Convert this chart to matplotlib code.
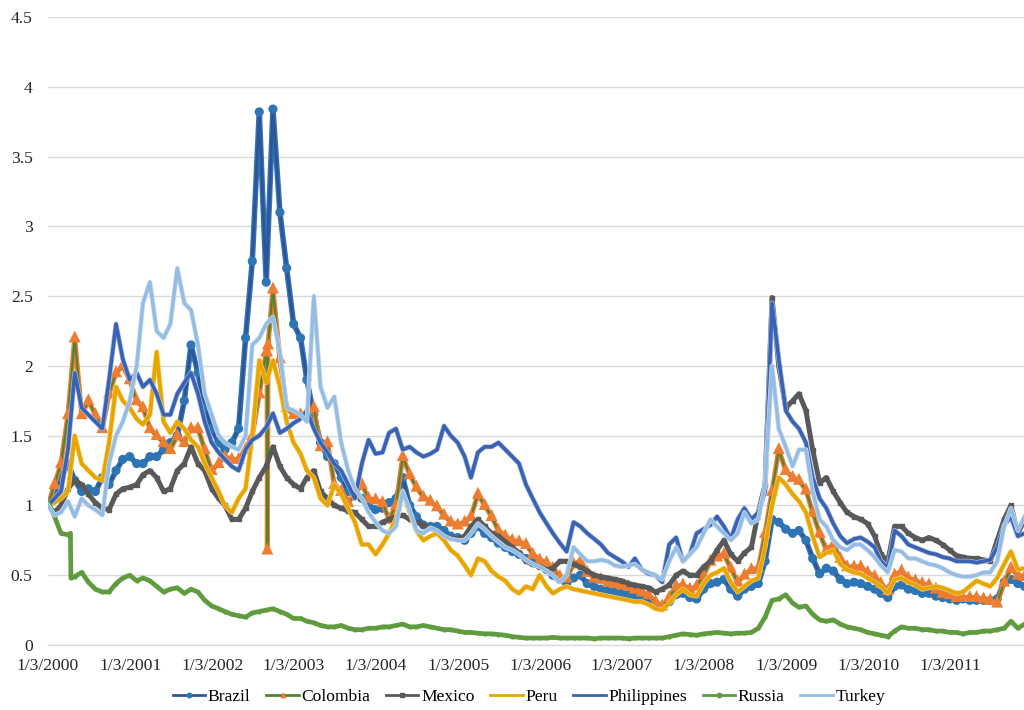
import numpy as np
import pandas as pd
import matplotlib
matplotlib.use("Agg")
import matplotlib.pyplot as plt
import matplotlib.dates as mdates
import matplotlib.patheffects as pe
from matplotlib.lines import Line2D

# Month-start observation dates, Jan 2000 .. Dec 2011
dates = pd.to_datetime(["2000-01-03"] + [d.strftime("%Y-%m-%d") for d in pd.date_range("2000-02-01", "2011-12-01", freq="MS")])

brazil = [
    1.00, 1.10, 1.20, 1.30, 1.18, 1.10, 1.12, 1.10, 1.20, 1.15, 1.25, 1.33,
    1.35, 1.30, 1.30, 1.35, 1.35, 1.40, 1.45, 1.50, 1.75, 2.15, 1.95, 1.70,
    1.55, 1.45, 1.40, 1.45, 1.55, 2.20, 2.75, 3.82, 2.60, 3.84, 3.10, 2.70,
    2.30, 2.20, 1.90, 1.65, 1.45, 1.35, 1.30, 1.20, 1.10, 1.10, 1.05, 1.00,
    0.97, 0.98, 1.02, 1.05, 1.20, 1.00, 0.92, 0.86, 0.85, 0.85, 0.82, 0.78,
    0.77, 0.75, 0.80, 0.85, 0.80, 0.77, 0.73, 0.70, 0.67, 0.65, 0.62, 0.59,
    0.57, 0.54, 0.50, 0.47, 0.44, 0.48, 0.50, 0.44, 0.42, 0.40, 0.39, 0.38,
    0.37, 0.36, 0.35, 0.33, 0.32, 0.29, 0.27, 0.31, 0.36, 0.37, 0.34, 0.33,
    0.40, 0.44, 0.45, 0.47, 0.40, 0.35, 0.40, 0.42, 0.44, 0.60, 0.90, 0.88,
    0.83, 0.80, 0.82, 0.75, 0.62, 0.51, 0.55, 0.53, 0.47, 0.44, 0.45, 0.44,
    0.42, 0.40, 0.37, 0.34, 0.42, 0.43, 0.40, 0.39, 0.37, 0.37, 0.35, 0.34,
    0.33, 0.32, 0.33, 0.32, 0.32, 0.32, 0.32, 0.33, 0.45, 0.47, 0.44, 0.42,
]

colombia = [
    1.00, 1.15, 1.30, 1.65, 2.20, 1.65, 1.75, 1.65, 1.55, 1.80, 1.95, 2.00,
    1.90, 1.75, 1.70, 1.55, 1.50, 1.45, 1.40, 1.50, 1.45, 1.55, 1.55, 1.40,
    1.25, 1.30, 1.35, 1.33, 1.33, 1.40, 1.50, 1.80, 2.10, 2.55, 2.05, 1.70,
    1.65, 1.65, 1.65, 1.70, 1.42, 1.45, 1.15, 1.10, 1.02, 1.08, 1.15, 1.05,
    1.04, 1.02, 0.90, 1.00, 1.35, 1.22, 1.13, 1.06, 1.03, 0.99, 0.93, 0.88,
    0.86, 0.88, 0.92, 1.08, 1.00, 0.92, 0.82, 0.78, 0.75, 0.74, 0.72, 0.65,
    0.61, 0.59, 0.55, 0.49, 0.48, 0.58, 0.60, 0.52, 0.48, 0.47, 0.45, 0.44,
    0.43, 0.42, 0.40, 0.38, 0.36, 0.31, 0.28, 0.34, 0.42, 0.43, 0.40, 0.42,
    0.50, 0.60, 0.63, 0.65, 0.55, 0.45, 0.50, 0.54, 0.55, 0.80, 1.10, 1.40,
    1.25, 1.20, 1.18, 1.11, 0.95, 0.80, 0.68, 0.72, 0.62, 0.56, 0.56, 0.56,
    0.52, 0.49, 0.44, 0.39, 0.50, 0.53, 0.48, 0.46, 0.44, 0.43, 0.40, 0.37,
    0.36, 0.34, 0.34, 0.34, 0.34, 0.33, 0.32, 0.30, 0.45, 0.55, 0.50, 0.49,
]
# One-day quote break in Sep 2002
colombia_extra_dates = ["2002-09-05", "2002-09-06", "2002-09-09"]
colombia_extra_values = [2.10, 0.68, 2.15]

mexico = [
    1.00, 0.95, 1.00, 1.12, 1.18, 1.15, 1.08, 1.02, 0.98, 0.97, 1.08, 1.12,
    1.13, 1.15, 1.22, 1.25, 1.20, 1.10, 1.12, 1.25, 1.30, 1.42, 1.30, 1.25,
    1.12, 1.05, 1.00, 0.90, 0.90, 0.98, 1.10, 1.20, 1.28, 1.42, 1.28, 1.20,
    1.15, 1.12, 1.20, 1.25, 1.10, 1.05, 1.00, 0.98, 0.96, 0.95, 0.90, 0.85,
    0.85, 0.88, 0.90, 0.92, 0.93, 0.90, 0.88, 0.86, 0.84, 0.82, 0.78, 0.77,
    0.76, 0.78, 0.85, 0.90, 0.85, 0.80, 0.78, 0.74, 0.70, 0.66, 0.60, 0.58,
    0.56, 0.54, 0.55, 0.60, 0.60, 0.58, 0.56, 0.53, 0.50, 0.49, 0.48, 0.47,
    0.46, 0.44, 0.43, 0.42, 0.41, 0.38, 0.40, 0.43, 0.50, 0.53, 0.50, 0.50,
    0.56, 0.60, 0.68, 0.75, 0.65, 0.60, 0.66, 0.70, 0.95, 1.15, 2.49, 2.00,
    1.70, 1.75, 1.80, 1.68, 1.40, 1.16, 1.20, 1.10, 1.02, 0.95, 0.92, 0.90,
    0.87, 0.78, 0.65, 0.60, 0.85, 0.85, 0.80, 0.77, 0.75, 0.77, 0.75, 0.72,
    0.68, 0.64, 0.63, 0.62, 0.62, 0.61, 0.60, 0.75, 0.90, 1.00, 0.80, 0.90,
]

peru = [
    1.00, 1.02, 1.05, 1.10, 1.50, 1.30, 1.25, 1.20, 1.18, 1.45, 1.85, 1.75,
    1.70, 1.62, 1.58, 1.65, 2.10, 1.60, 1.52, 1.60, 1.55, 1.47, 1.42, 1.30,
    1.20, 1.10, 1.00, 0.95, 1.05, 1.12, 1.50, 2.04, 1.88, 2.04, 1.85, 1.60,
    1.45, 1.37, 1.25, 1.20, 1.05, 1.00, 1.15, 1.08, 0.98, 0.88, 0.72, 0.72,
    0.65, 0.72, 0.80, 0.90, 1.10, 0.95, 0.82, 0.75, 0.78, 0.80, 0.75, 0.68,
    0.64, 0.57, 0.50, 0.62, 0.60, 0.53, 0.49, 0.46, 0.40, 0.37, 0.42, 0.40,
    0.50, 0.42, 0.37, 0.40, 0.42, 0.40, 0.39, 0.38, 0.37, 0.36, 0.35, 0.34,
    0.33, 0.32, 0.31, 0.31, 0.29, 0.26, 0.25, 0.30, 0.36, 0.40, 0.36, 0.35,
    0.44, 0.50, 0.52, 0.55, 0.45, 0.38, 0.42, 0.46, 0.48, 0.70, 1.00, 1.20,
    1.15, 1.08, 1.03, 0.95, 0.78, 0.63, 0.66, 0.68, 0.58, 0.54, 0.52, 0.51,
    0.48, 0.45, 0.42, 0.37, 0.47, 0.48, 0.45, 0.43, 0.40, 0.41, 0.42, 0.41,
    0.39, 0.37, 0.38, 0.42, 0.46, 0.44, 0.42, 0.48, 0.58, 0.67, 0.54, 0.55,
]

philippines = [
    1.00, 1.05, 1.10, 1.40, 1.95, 1.70, 1.65, 1.60, 1.55, 1.90, 2.30, 2.05,
    1.90, 1.95, 1.85, 1.90, 1.80, 1.65, 1.65, 1.80, 1.88, 1.95, 1.80, 1.60,
    1.45, 1.38, 1.33, 1.28, 1.25, 1.40, 1.47, 1.50, 1.56, 1.66, 1.52, 1.55,
    1.59, 1.62, 1.68, 1.55, 1.45, 1.38, 1.30, 1.25, 1.15, 1.05, 1.30, 1.47,
    1.37, 1.38, 1.52, 1.55, 1.40, 1.42, 1.38, 1.35, 1.37, 1.40, 1.57, 1.50,
    1.45, 1.35, 1.20, 1.38, 1.42, 1.42, 1.45, 1.40, 1.35, 1.30, 1.15, 1.05,
    0.95, 0.87, 0.80, 0.73, 0.67, 0.88, 0.85, 0.80, 0.76, 0.72, 0.66, 0.63,
    0.60, 0.56, 0.62, 0.54, 0.51, 0.50, 0.45, 0.72, 0.77, 0.60, 0.65, 0.80,
    0.83, 0.86, 0.92, 0.85, 0.76, 0.90, 0.98, 0.90, 0.95, 1.10, 2.45, 2.05,
    1.68, 1.60, 1.55, 1.45, 1.20, 1.05, 0.98, 0.87, 0.78, 0.73, 0.76, 0.77,
    0.74, 0.70, 0.60, 0.55, 0.82, 0.78, 0.72, 0.70, 0.68, 0.66, 0.65, 0.63,
    0.62, 0.60, 0.60, 0.60, 0.59, 0.60, 0.61, 0.70, 0.86, 0.92, 0.78, 0.80,
]

russia = [
    1.02, 0.92, 0.80, 0.79, 0.49, 0.52, 0.45, 0.40, 0.38, 0.38, 0.44, 0.48,
    0.50, 0.46, 0.48, 0.46, 0.42, 0.38, 0.40, 0.41, 0.37, 0.40, 0.38, 0.32,
    0.28, 0.26, 0.24, 0.22, 0.21, 0.20, 0.23, 0.24, 0.25, 0.26, 0.24, 0.22,
    0.19, 0.19, 0.17, 0.16, 0.14, 0.13, 0.13, 0.14, 0.12, 0.11, 0.11, 0.12,
    0.12, 0.13, 0.13, 0.14, 0.15, 0.13, 0.13, 0.14, 0.13, 0.12, 0.11, 0.11,
    0.10, 0.09, 0.09, 0.085, 0.08, 0.08, 0.075, 0.07, 0.06, 0.055, 0.05, 0.05,
    0.05, 0.05, 0.055, 0.05, 0.05, 0.05, 0.05, 0.05, 0.045, 0.05, 0.05, 0.05,
    0.05, 0.045, 0.05, 0.05, 0.05, 0.05, 0.05, 0.06, 0.07, 0.08, 0.075, 0.07,
    0.08, 0.085, 0.09, 0.085, 0.08, 0.085, 0.085, 0.09, 0.12, 0.20, 0.32, 0.33,
    0.36, 0.30, 0.27, 0.28, 0.22, 0.18, 0.17, 0.18, 0.15, 0.13, 0.12, 0.11,
    0.09, 0.08, 0.07, 0.06, 0.10, 0.13, 0.12, 0.12, 0.11, 0.11, 0.10, 0.10,
    0.09, 0.09, 0.08, 0.09, 0.09, 0.10, 0.10, 0.11, 0.12, 0.17, 0.12, 0.15,
]
# Step down in mid-April 2000
russia_extra_dates = ["2000-04-12", "2000-04-14"]
russia_extra_values = [0.80, 0.48]

turkey = [
    1.00, 0.93, 0.95, 1.03, 0.92, 1.05, 1.00, 0.97, 0.93, 1.30, 1.50, 1.60,
    1.75, 2.00, 2.45, 2.60, 2.25, 2.20, 2.30, 2.70, 2.45, 2.40, 2.15, 1.80,
    1.65, 1.50, 1.45, 1.42, 1.40, 1.50, 2.15, 2.20, 2.30, 2.35, 2.10, 1.70,
    1.68, 1.65, 1.60, 2.50, 1.85, 1.70, 1.78, 1.45, 1.25, 1.12, 1.05, 0.95,
    0.88, 0.82, 0.80, 0.85, 1.10, 0.97, 0.82, 0.80, 0.84, 0.82, 0.78, 0.76,
    0.75, 0.75, 0.80, 0.87, 0.83, 0.78, 0.74, 0.70, 0.68, 0.65, 0.61, 0.58,
    0.56, 0.53, 0.50, 0.45, 0.50, 0.70, 0.65, 0.60, 0.60, 0.61, 0.60, 0.57,
    0.56, 0.57, 0.58, 0.54, 0.52, 0.50, 0.47, 0.60, 0.70, 0.60, 0.65, 0.70,
    0.80, 0.90, 0.85, 0.80, 0.75, 0.80, 0.95, 0.87, 0.90, 1.15, 2.00, 1.55,
    1.42, 1.28, 1.40, 1.40, 1.10, 0.90, 0.85, 0.75, 0.70, 0.68, 0.72, 0.72,
    0.68, 0.63, 0.57, 0.52, 0.68, 0.67, 0.62, 0.62, 0.60, 0.58, 0.57, 0.55,
    0.52, 0.50, 0.49, 0.49, 0.50, 0.52, 0.52, 0.60, 0.85, 0.98, 0.82, 0.92,
]

tick_years = list(range(2000, 2012))
tick_labels = [f"1/3/{y}" for y in tick_years]


def with_extra(values, extra_dates, extra_values):
    s = pd.Series(values, index=dates)
    e = pd.Series(extra_values, index=pd.to_datetime(extra_dates))
    s = pd.concat([s, e]).sort_index()
    return s.index, s.values


plt.rcParams["font.family"] = ["Liberation Serif", "DejaVu Serif"]

fig = plt.figure(figsize=(10.24, 7.10), dpi=100)
ax = fig.add_axes([48 / 1024, 1 - 645 / 710, 976 / 1024, 628 / 710])

# name, x, y, line colour, marker, marker colour, marker size, width, halo colour, halo width
series = [
    ("Brazil", dates, brazil, "#2F5597", "o", "#2E75B6", 2.6, 2.0, "#2E75B6", 4.0),
    ("Colombia", *with_extra(colombia, colombia_extra_dates, colombia_extra_values),
     "#548235", "^", "#ED7D31", 2.8, 1.6, "#ED7D31", 3.6),
    ("Mexico", dates, mexico, "#595959", "s", "#595959", 2.8, 3.6, None, 0),
    ("Peru", dates, peru, "#E8A500", None, None, 0, 2.6, "#F3CF70", 3.6),
    ("Philippines", dates, philippines, "#3A62B3", None, None, 0, 2.6, "#A9BCE3", 3.6),
    ("Russia", *with_extra(russia, russia_extra_dates, russia_extra_values),
     "#5E9C3E", "o", "#5E9C3E", 2.0, 3.4, None, 0),
    ("Turkey", dates, turkey, "#95BDE4", None, None, 0, 2.4, "#C6DAF0", 3.4),
]

handles = []
for i, (name, x, y, lc, mk, mc, ms, lw, halo, hw) in enumerate(series):
    effects = [pe.Stroke(linewidth=hw, foreground=halo), pe.Normal()] if halo else None
    ax.plot(x, y, color=lc, lw=lw, marker=mk, ms=ms, mfc=mc, mec=mc,
            zorder=3 + i, solid_joinstyle="round", path_effects=effects)
    handles.append(Line2D([], [], color=lc, lw=2.0, marker=mk, ms=3.2, mfc=mc,
                          mec=mc, label=name))

x0 = mdates.date2num(pd.Timestamp("2000-01-03"))
ax.set_xlim(x0, x0 + 976 / 82 * 365.25)
ax.set_ylim(0, 4.5)
ax.set_yticks(np.arange(0, 4.51, 0.5))
ax.set_yticklabels(["0", "0.5", "1", "1.5", "2", "2.5", "3", "3.5", "4", "4.5"])
ax.set_xticks([mdates.date2num(pd.Timestamp(f"{y}-01-03")) for y in tick_years])
ax.set_xticklabels(tick_labels)

ax.grid(axis="y", color="#D9D9D9", lw=1.0)
ax.set_axisbelow(True)
for side in ["top", "right", "left"]:
    ax.spines[side].set_visible(False)
ax.spines["bottom"].set_color("#D9D9D9")
ax.spines["bottom"].set_linewidth(1.0)
ax.tick_params(axis="both", length=0, labelsize=12.6, colors="#262626")
ax.tick_params(axis="y", pad=11)
ax.tick_params(axis="x", pad=9)

fig.legend(handles=handles, loc="center", bbox_to_anchor=(529 / 1024, 1 - 697 / 710),
           ncol=7, frameon=False, fontsize=12.6, handlelength=1.85,
           handletextpad=0.15, columnspacing=0.9)

fig.savefig("out.png", dpi=100)
